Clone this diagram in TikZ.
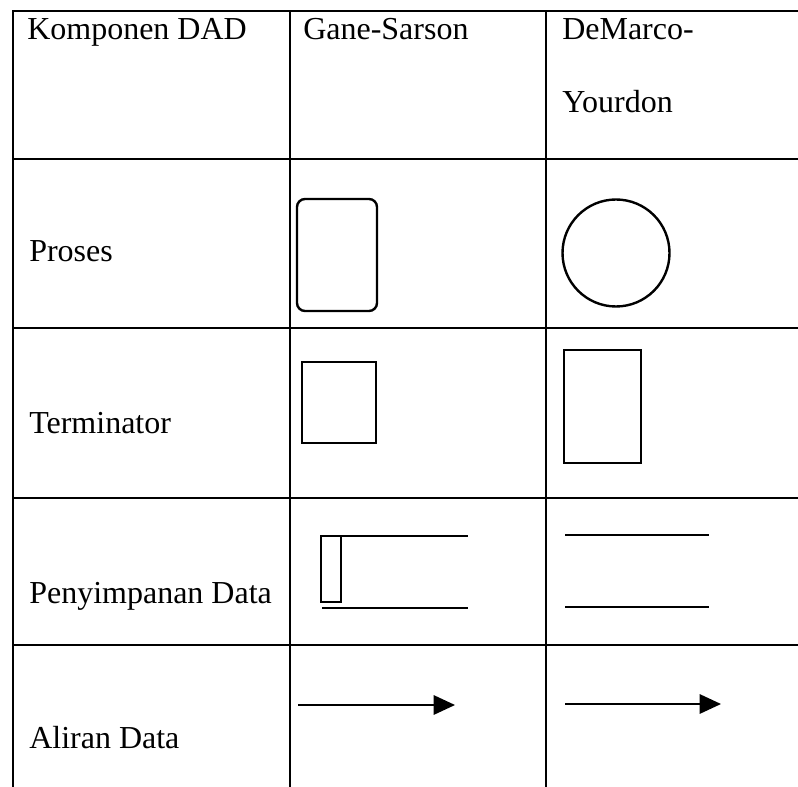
\documentclass[tikz,border=0pt]{standalone}
\usepackage{fontspec}
\setmainfont{Liberation Serif}
\usetikzlibrary{arrows.meta}
\begin{document}
\begin{tikzpicture}[x=0.75pt,y=-0.75pt,
  grid/.style={line width=1.3pt},
  shp/.style={line width=1.8pt},
  lbl/.style={anchor=base west,inner sep=0pt,font=\fontsize{24}{29}\selectfont},
  flow/.style={line width=1.5pt,-{Triangle[length=16pt,width=14.5pt]}}]
\useasboundingbox (0,0) rectangle (798,787);
% table grid
\draw[grid] (13,787) -- (13,11) -- (798,11);
\draw[grid] (290,11) -- (290,787);
\draw[grid] (546,11) -- (546,787);
\draw[grid] (13,159) -- (798,159);
\draw[grid] (13,328) -- (798,328);
\draw[grid] (13,498) -- (798,498);
\draw[grid] (13,645) -- (798,645);
% header
\node[lbl] (h1) at (27,40) {Komponen DAD};
\node[lbl] (h2) at (303,40) {Gane-Sarson};
\node[lbl] (h3a) at (562,40) {DeMarco-};
\node[lbl] (h3b) at (562,113) {Yourdon};
% row labels
\node[lbl] (r1) at (29,262) {Proses};
\node[lbl] (r2) at (29,433) {Terminator};
\node[lbl] (r3) at (29,603) {Penyimpanan Data};
\node[lbl] (r4) at (29,748) {Aliran Data};
% Proses
\draw[shp,rounded corners=6pt] (297,199) rectangle (377,311);
\draw[shp] (616,253) circle[radius=53.5];
% Terminator
\draw[shp] (302,362) rectangle (376,443);
\draw[shp] (564,350) rectangle (641,463);
% Data store
\draw[shp] (321,536) rectangle (341,602);
\draw[shp] (341,536) -- (468,536);
\draw[shp] (322,608) -- (468,608);
\draw[shp] (565,535) -- (709,535);
\draw[shp] (565,607) -- (709,607);
% Data flow
\coordinate (a1s) at (298,705);
\coordinate (a1e) at (455,705);
\coordinate (a2s) at (565,704);
\coordinate (a2e) at (721,704);
\draw[flow] (a1s) -- (a1e);
\draw[flow] (a2s) -- (a2e);
\end{tikzpicture}
\end{document}
